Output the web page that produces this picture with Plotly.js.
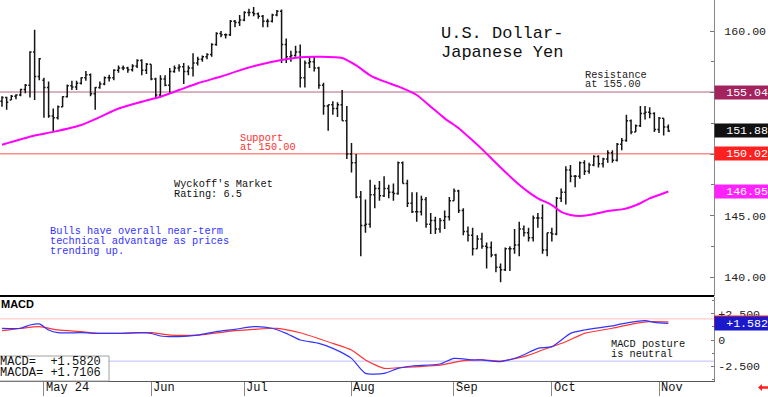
<!DOCTYPE html>
<html><head><meta charset="utf-8">
<script src="https://cdn.plot.ly/plotly-3.0.1.min.js"></script>
<style>html,body{margin:0;padding:0;background:#fff;}#chart{width:768px;height:397px;}</style>
</head><body><div id="chart"></div>
<script>
// ---------- DATA ----------
const dates = [
"2024-04-18","2024-04-19","2024-04-22","2024-04-23","2024-04-24","2024-04-25","2024-04-26","2024-04-29","2024-04-30",
"2024-05-01","2024-05-02","2024-05-03","2024-05-06","2024-05-07","2024-05-08","2024-05-09","2024-05-10","2024-05-13","2024-05-14","2024-05-15","2024-05-16","2024-05-17","2024-05-20","2024-05-21","2024-05-22","2024-05-23","2024-05-24","2024-05-27","2024-05-28","2024-05-29","2024-05-30","2024-05-31",
"2024-06-03","2024-06-04","2024-06-05","2024-06-06","2024-06-07","2024-06-10","2024-06-11","2024-06-12","2024-06-13","2024-06-14","2024-06-17","2024-06-18","2024-06-19","2024-06-20","2024-06-21","2024-06-24","2024-06-25","2024-06-26","2024-06-27","2024-06-28",
"2024-07-01","2024-07-02","2024-07-03","2024-07-04","2024-07-05","2024-07-08","2024-07-09","2024-07-10","2024-07-11","2024-07-12","2024-07-15","2024-07-16","2024-07-17","2024-07-18","2024-07-19","2024-07-22","2024-07-23","2024-07-24","2024-07-25","2024-07-26","2024-07-29","2024-07-30","2024-07-31",
"2024-08-01","2024-08-02","2024-08-05","2024-08-06","2024-08-07","2024-08-08","2024-08-09","2024-08-12","2024-08-13","2024-08-14","2024-08-15","2024-08-16","2024-08-19","2024-08-20","2024-08-21","2024-08-22","2024-08-23","2024-08-26","2024-08-27","2024-08-28","2024-08-29","2024-08-30",
"2024-09-02","2024-09-03","2024-09-04","2024-09-05","2024-09-06","2024-09-09","2024-09-10","2024-09-11","2024-09-12","2024-09-13","2024-09-16","2024-09-17","2024-09-18","2024-09-19","2024-09-20","2024-09-23","2024-09-24","2024-09-25","2024-09-26","2024-09-27","2024-09-30",
"2024-10-01","2024-10-02","2024-10-03","2024-10-04","2024-10-07","2024-10-08","2024-10-09","2024-10-10","2024-10-11","2024-10-14","2024-10-15","2024-10-16","2024-10-17","2024-10-18","2024-10-21","2024-10-22","2024-10-23","2024-10-24","2024-10-25","2024-10-28","2024-10-29","2024-10-30","2024-10-31",
"2024-11-01","2024-11-04","2024-11-05"];

const openP = [154.30,154.60,154.40,154.70,154.80,155.25,155.60,158.30,156.30,
156.00,155.40,153.10,152.95,153.85,154.65,155.55,155.45,155.75,156.20,156.45,154.90,155.40,155.70,156.20,156.20,156.80,157.00,157.00,156.85,157.15,157.60,156.80,
157.30,156.10,154.80,156.10,155.60,156.70,157.00,157.10,156.70,157.00,157.40,157.70,157.90,158.10,158.90,159.80,159.70,159.70,160.80,160.70,
160.90,161.50,161.50,161.40,161.20,160.80,160.80,161.30,161.60,158.90,157.90,158.00,158.30,156.20,157.40,157.50,157.00,155.60,153.90,154.00,153.70,154.00,152.70,
150.00,149.30,146.50,144.20,144.30,146.70,147.20,146.60,147.20,146.90,146.80,149.30,147.60,146.00,145.30,145.30,146.30,144.30,144.60,143.90,144.60,144.90,
146.20,147.00,145.40,143.70,143.40,142.30,143.10,142.50,142.40,141.80,140.80,140.60,142.30,142.30,142.60,143.90,143.60,143.20,144.80,144.80,142.20,
143.60,143.50,146.40,146.90,148.70,148.20,148.20,149.30,148.60,149.10,149.80,149.20,149.60,150.10,149.50,150.80,151.10,152.70,151.80,152.30,153.30,153.40,153.30,
152.00,152.90,152.20];
const highP = [154.70,154.65,154.80,154.85,155.30,155.70,158.35,160.10,157.80,
156.20,155.90,153.70,153.95,154.70,155.65,155.95,155.95,156.25,156.75,156.55,155.45,155.90,156.30,156.45,156.90,157.20,157.20,157.10,157.30,157.70,157.70,157.40,
157.30,156.20,156.40,156.40,157.00,157.20,157.30,157.40,157.20,158.20,157.90,158.00,158.20,159.00,159.90,160.00,159.80,160.90,160.90,161.30,
161.60,161.80,161.95,161.50,161.30,161.00,161.40,161.70,161.75,159.40,158.40,158.80,158.90,157.60,157.90,157.90,157.10,155.80,154.00,154.30,154.20,155.20,153.90,
150.90,150.00,147.00,146.30,147.90,147.50,147.80,148.20,147.50,147.60,149.40,149.40,147.90,146.90,146.90,146.60,146.50,145.20,144.90,144.80,145.40,146.50,
147.20,147.10,145.60,144.10,144.00,143.40,143.60,142.80,142.90,141.90,141.10,142.40,142.50,143.90,144.50,144.20,144.00,145.00,145.20,145.90,143.60,
144.00,146.50,147.20,149.00,149.10,148.30,149.40,149.50,149.30,149.90,149.90,149.70,150.30,150.30,150.90,151.30,153.20,152.80,152.40,153.90,153.90,153.80,153.40,
153.00,152.90,152.40];
const lowP = [153.85,153.60,154.40,154.45,154.70,154.95,154.60,154.40,156.00,
152.95,152.95,151.85,152.80,153.80,154.60,155.20,155.20,155.65,155.95,154.70,153.60,155.30,155.60,155.90,156.00,156.60,156.80,156.60,156.70,157.00,156.40,156.50,
156.00,154.50,154.60,155.50,154.90,156.60,156.70,155.70,156.40,156.30,157.20,157.50,157.70,157.90,158.80,159.50,159.40,159.60,160.30,160.40,
160.80,161.20,161.20,161.00,160.30,160.30,160.70,161.20,157.40,157.40,157.50,157.90,155.40,155.40,157.00,156.70,155.30,153.20,151.90,153.20,153.00,152.70,149.60,
148.50,146.40,141.70,143.60,144.00,145.60,146.20,146.50,146.40,146.20,146.70,147.60,145.70,145.20,144.50,145.00,144.00,143.50,143.50,143.60,143.90,144.60,
146.20,145.20,143.40,142.90,141.75,142.30,142.30,140.70,141.60,140.40,139.58,140.50,140.50,141.90,141.70,143.30,142.90,142.90,144.00,141.90,141.70,
142.90,143.40,146.10,145.90,147.70,147.30,148.00,148.30,148.40,149.00,148.90,148.90,149.30,149.30,149.40,150.30,151.00,151.60,151.80,152.20,152.80,152.90,151.80,
151.70,151.50,151.80];
const closeP = [154.60,154.20,154.70,154.80,155.25,155.60,158.30,156.30,157.75,
155.40,153.10,152.95,153.85,154.65,155.55,155.45,155.75,156.20,156.45,154.90,155.40,155.70,156.20,156.20,156.80,157.00,157.00,156.85,157.15,157.60,156.80,157.30,
156.10,154.80,156.10,155.60,156.70,157.00,157.10,156.70,157.00,157.40,157.70,157.90,158.10,158.90,159.80,159.70,159.70,160.80,160.70,160.90,
161.50,161.50,161.40,161.20,160.80,160.80,161.30,161.60,158.90,157.90,158.00,158.30,156.20,157.40,157.50,157.00,155.60,153.90,154.00,153.70,154.00,152.70,150.00,
149.30,146.50,144.20,144.30,146.70,147.20,146.60,147.20,146.90,146.80,149.30,147.60,146.00,145.30,145.30,146.30,144.30,144.60,143.90,144.60,144.90,146.20,
147.00,145.40,143.70,143.40,142.30,143.10,142.50,142.40,141.80,140.80,140.60,142.30,142.30,142.60,143.90,143.60,143.20,144.80,144.80,142.20,143.60,
143.50,146.40,146.90,148.70,148.20,148.20,149.30,148.60,149.10,149.80,149.20,149.60,150.10,149.50,150.80,151.10,152.70,151.80,152.30,153.30,153.40,153.30,152.00,
152.90,152.20,151.88];

const maDates = ["2024-04-18","2024-04-29","2024-05-03","2024-05-13","2024-05-17","2024-05-23","2024-05-30","2024-06-05","2024-06-11","2024-06-17","2024-06-24","2024-06-28","2024-07-04","2024-07-11","2024-07-17","2024-07-23","2024-07-30","2024-08-02","2024-08-07","2024-08-12","2024-08-15","2024-08-21","2024-08-26","2024-08-29","2024-09-03","2024-09-06","2024-09-10","2024-09-16","2024-09-20","2024-09-24","2024-09-26","2024-10-01","2024-10-03","2024-10-07","2024-10-09","2024-10-11","2024-10-15","2024-10-17","2024-10-22","2024-10-24","2024-10-28","2024-10-30","2024-11-01","2024-11-05"];
const maVals = [150.75,151.5,151.8,152.36,153.0,153.7,154.25,154.66,155.2,155.75,156.3,156.8,157.24,157.64,157.86,157.9,157.8,157.2,156.4,155.9,155.5,154.8,153.85,152.9,152.1,151.1,150.4,148.9,147.5,146.9,146.4,145.85,145.3,145.04,144.96,145.04,145.2,145.37,145.5,145.7,146.0,146.4,146.67,146.95];

const macdDates = ["2024-04-18","2024-04-24","2024-04-26","2024-04-30","2024-05-02","2024-05-06","2024-05-13","2024-05-17","2024-05-23","2024-05-30","2024-06-03","2024-06-05","2024-06-11","2024-06-17","2024-06-21","2024-06-27","2024-07-03","2024-07-09","2024-07-12","2024-07-17","2024-07-23","2024-07-26","2024-08-01","2024-08-06","2024-08-12","2024-08-15","2024-08-20","2024-08-28","2024-09-02","2024-09-06","2024-09-10","2024-09-16","2024-09-20","2024-09-26","2024-10-01","2024-10-07","2024-10-10","2024-10-18","2024-10-22","2024-10-29","2024-10-31","2024-11-05"];
const macdVals = [1.11,1.11,1.42,1.52,0.95,0.69,0.69,0.63,0.63,0.69,0.63,0.38,0.32,0.47,0.79,1.01,1.26,1.11,0.63,0.0,-0.32,-0.79,-1.74,-3.16,-3.16,-2.68,-2.46,-2.27,-1.74,-1.89,-1.89,-2.05,-1.58,-0.79,-0.63,0.63,0.95,1.33,1.52,1.83,1.67,1.58];

const sigDates = ["2024-04-18","2024-04-24","2024-04-30","2024-05-06","2024-05-13","2024-05-17","2024-05-23","2024-06-03","2024-06-07","2024-06-17","2024-06-27","2024-07-03","2024-07-10","2024-07-17","2024-07-26","2024-08-01","2024-08-06","2024-08-12","2024-08-16","2024-08-28","2024-09-04","2024-09-10","2024-09-16","2024-09-23","2024-09-27","2024-10-04","2024-10-10","2024-10-18","2024-10-25","2024-10-30","2024-11-05"];
const sigVals = [0.88,1.1,1.26,0.95,0.79,0.63,0.63,0.69,0.47,0.47,0.88,1.01,1.11,0.69,-0.32,-0.95,-1.89,-2.68,-2.59,-2.37,-1.96,-1.89,-1.99,-1.58,-0.95,-0.16,0.63,1.11,1.58,1.74,1.71];

const monthTicks = ["2024-05-01","2024-06-03","2024-07-01","2024-08-01","2024-09-02","2024-10-01","2024-11-01"];
const monthLabels = ["May 24","Jun","Jul","Aug","Sep","Oct","Nov"];
const priceTickVals = [140, 145, 150, 155, 160];
const priceTickText = ["140.00", "145.00", "", "", "160.00"];   // 150/155 hidden under value boxes
const priceMinorVals = [142.5, 147.5, 152.5, 157.5, 162.5];
const macdTickVals = [2.5, 0, -2.5];
const macdTickText = ["+2.500", "0", "-2.500"];

const resistanceLevel = 155.04, supportLevel = 150.02, lastClose = 151.88, maLast = 146.95;
const macdLast = 1.582, macdaLast = 1.7106, macdBand = 2;

// ---------- LAYOUT HELPERS ----------
const MONO = "Liberation Mono, DejaVu Sans Mono, monospace";
const PW = 714, PH = 381;
const px = x => x / PW;
const py = y => 1 - y / PH;

function line(s, x, y, size, color) {
  return {xref:'paper', yref:'paper', x:px(x), y:py(y), xanchor:'left', yanchor:'middle',
    text:s, showarrow:false, borderpad:0, font:{family:MONO, size:size, color:color}};
}
function valueBox(v, txt, yref, bg) {
  return {xref:'paper', yref:yref, x:1, y:v, xanchor:'left', yanchor:'middle', text:txt,
    showarrow:false, width:52, height:11, borderpad:1, align:'right', bgcolor:bg,
    font:{family:MONO, size:11.6, color:'#ffffff'}};
}

const annotations = [
  line("U.S. Dollar-", 440, 33.5, 17, '#111'),
  line("Japanese Yen", 440, 52, 17, '#111'),
  line("Resistance", 584, 75, 10.3, '#222'),
  line("at 155.00", 584, 84.5, 10.3, '#222'),
  line("Support", 239, 137.5, 10.3, '#ff3030'),
  line("at 150.00", 239, 147, 10.3, '#ff3030'),
  line("Wyckoff's Market", 173, 184, 10.3, '#111'),
  line("Rating: 6.5", 173, 194, 10.3, '#111'),
  line("Bulls have overall near-term", 49, 230.5, 10.3, '#3333ff'),
  line("technical advantage as prices", 49, 241, 10.3, '#3333ff'),
  line("trending up.", 49, 251, 10.3, '#3333ff'),
  line("MACD posture", 610, 344, 10.3, '#111'),
  line("is neutral", 610, 354, 10.3, '#111'),
  {xref:'paper', yref:'paper', x:0, y:py(304), xanchor:'left', yanchor:'middle', text:'<b>MACD</b>',
    showarrow:false, borderpad:0, font:{family:'Liberation Sans, Arial, sans-serif', size:11, color:'#000'}},
  line("MACD=\u00a0\u00a0+" + "1.5820", -1, 361.5, 12, '#111'),
  line("MACDA=\u00a0+" + "1.7106", -1, 372.5, 12, '#111'),
  valueBox(resistanceLevel, resistanceLevel.toFixed(2), 'y', '#a3235f'),
  valueBox(lastClose, lastClose.toFixed(2), 'y', '#111111'),
  valueBox(supportLevel, supportLevel.toFixed(2), 'y', '#ff2020'),
  valueBox(maLast, maLast.toFixed(2), 'y', '#ff22ff'),
  valueBox(macdLast, '+' + macdLast.toFixed(3), 'y2', '#1a1acc')
];
monthTicks.forEach((d, k) => {
  annotations.push({xref:'x', yref:'paper', x:d, y:py(388), xanchor:'left', yanchor:'middle',
    xshift:1, text:monthLabels[k], showarrow:false, borderpad:0,
    font:{family:MONO, size:12, color:'#111'}});
});

function P(x, y) { return px(x).toFixed(5) + ',' + py(y).toFixed(5); }
const arrowPath = 'M' + P(758, 387.5) + ' L' + P(762, 384) + ' L' + P(762, 386.3) + ' L' + P(768, 386.3) +
  ' L' + P(768, 388.7) + ' L' + P(762, 388.7) + ' L' + P(762, 391) + ' Z';

const shapes = [
  {type:'line', layer:'below', xref:'paper', x0:0, x1:1, yref:'y', y0:resistanceLevel, y1:resistanceLevel, line:{color:'#b06482', width:1}},
  {type:'line', layer:'below', xref:'paper', x0:0, x1:1, yref:'y', y0:supportLevel, y1:supportLevel, line:{color:'#ff8c8c', width:1.5}},
  {type:'line', layer:'below', xref:'paper', x0:0, x1:1, yref:'y2', y0:macdBand, y1:macdBand, line:{color:'#ffbdbd', width:1}},
  {type:'line', layer:'below', xref:'paper', x0:0, x1:1, yref:'y2', y0:-macdBand, y1:-macdBand, line:{color:'#bdbdff', width:1}},
  // MACDA value marker (red strip peeking above the MACD value box)
  {type:'rect', layer:'above', xref:'paper', x0:1, x1:px(768), yref:'y2', y0:macdaLast - 0.55, y1:macdaLast + 0.62, fillcolor:'#ff2020', line:{width:0}},
  {type:'rect', layer:'above', xref:'paper', yref:'paper', x0:px(-2), x1:px(109), y0:py(356), y1:py(381), fillcolor:'#ffffff', line:{color:'#a0a0a0', width:1}},
  {type:'line', layer:'above', xref:'paper', yref:'paper', x0:0, x1:1, y0:py(296), y1:py(296), line:{color:'#000', width:2}},
  {type:'path', layer:'above', xref:'paper', yref:'paper', path:arrowPath, fillcolor:'#ff2020', line:{width:0}}
];

const traces = [
  {type:'ohlc', x:dates, open:openP, high:highP, low:lowP, close:closeP, xaxis:'x', yaxis:'y',
    increasing:{line:{color:'#141414', width:1.5}}, decreasing:{line:{color:'#141414', width:1.5}},
    tickwidth:0.35, hoverinfo:'skip', showlegend:false},
  {type:'scatter', mode:'lines', x:maDates, y:maVals, xaxis:'x', yaxis:'y',
    line:{color:'#ff00ff', width:2, shape:'spline', smoothing:0.6}, hoverinfo:'skip', showlegend:false},
  {type:'scatter', mode:'lines', x:sigDates, y:sigVals, xaxis:'x', yaxis:'y2',
    line:{color:'#ff3333', width:1.2, shape:'spline', smoothing:0.6}, hoverinfo:'skip', showlegend:false},
  {type:'scatter', mode:'lines', x:macdDates, y:macdVals, xaxis:'x', yaxis:'y2',
    line:{color:'#3333ff', width:1.2, shape:'spline', smoothing:0.6}, hoverinfo:'skip', showlegend:false}
];

const layout = {
  width:768, height:397,
  margin:{l:0, r:54, t:0, b:16, pad:0},
  paper_bgcolor:'#ffffff', plot_bgcolor:'#ffffff',
  showlegend:false,
  font:{family:MONO, size:12, color:'#111'},
  xaxis:{type:'category', categoryorder:'array', categoryarray:dates, range:[-0.43, 152.8],
    anchor:'y2', showline:true, linecolor:'#555', linewidth:1, ticks:'outside', ticklen:14,
    tickcolor:'#888', tickwidth:1, tickvals:monthTicks, showticklabels:false, showgrid:false,
    zeroline:false, rangeslider:{visible:false}, fixedrange:true},
  yaxis:{domain:[py(296), 1], range:[138.46, 162.52], side:'right', anchor:'x',
    tickmode:'array', tickvals:priceTickVals, ticktext:priceTickText, ticks:'inside', ticklen:4, tickcolor:'#777',
    minor:{tickvals:priceMinorVals, ticks:'inside', ticklen:3, tickcolor:'#777'},
    showline:true, linecolor:'#888', linewidth:1, showgrid:false, zeroline:false,
    ticklabelstandoff:7, tickfont:{family:MONO, size:11.6, color:'#222'}, fixedrange:true},
  yaxis2:{domain:[0, py(297)], range:[-3.88, 4.07], side:'right', anchor:'x',
    tickvals:macdTickVals, ticktext:macdTickText, ticks:'inside', ticklen:3, tickcolor:'#777',
    minor:{tickvals:[3.75, 1.25, -1.25, -3.75], ticks:'inside', ticklen:2, tickcolor:'#777'},
    showline:true, linecolor:'#888', linewidth:1, showgrid:false, zeroline:false,
    ticklabelstandoff:1, tickfont:{family:MONO, size:11.6, color:'#222'}, fixedrange:true},
  annotations:annotations,
  shapes:shapes
};

Plotly.newPlot('chart', traces, layout, {staticPlot:true, displayModeBar:false});
</script>
</body></html>
